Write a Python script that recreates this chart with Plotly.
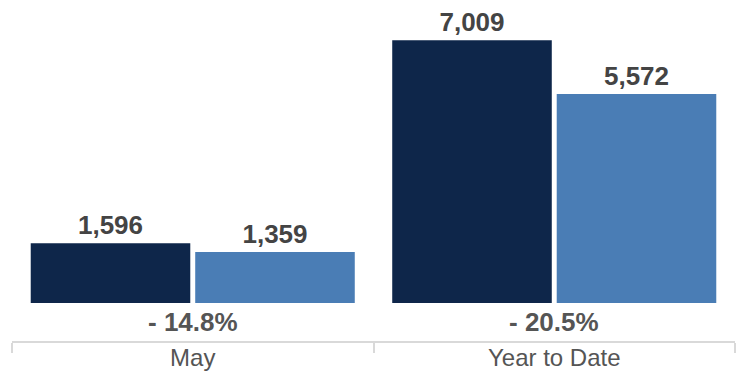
import plotly.graph_objects as go

categories = ["May", "Year to Date"]
prior_year = [1596, 7009]
current_year = [1359, 5572]
change_labels = ["- 14.8%", "- 20.5%"]

dark = "#0E264A"
blue = "#4A7DB5"
font_family = "Liberation Sans, Arial, sans-serif"

fig = go.Figure()
fig.add_trace(go.Bar(
    x=categories, y=prior_year, marker_color=dark, marker_line_width=0,
    texttemplate="%{y:,}", textposition="outside", cliponaxis=False,
    textfont=dict(family=font_family, size=26, color="#444444", weight="bold"),
    name="Prior"))
fig.add_trace(go.Bar(
    x=categories, y=current_year, marker_color=blue, marker_line_width=0,
    texttemplate="%{y:,}", textposition="outside", cliponaxis=False,
    textfont=dict(family=font_family, size=26, color="#444444", weight="bold"),
    name="Current"))

for cat, lab in zip(categories, change_labels):
    fig.add_annotation(x=cat, y=0, yref="y", text=lab, showarrow=False,
                       yanchor="top", yshift=-2,
                       font=dict(family=font_family, size=26, color="#555555", weight="bold"))

fig.update_layout(
    width=743, height=373,
    margin=dict(l=12, r=8, t=0, b=32, autoexpand=False),
    paper_bgcolor="white", plot_bgcolor="white",
    barmode="group", bargap=0.09, bargroupgap=0.03,
    showlegend=False,
    uniformtext=dict(mode=False),
    xaxis=dict(showline=True, linecolor="#D9D9D9", linewidth=2,
               ticks="outside", tickson="boundaries", ticklen=10, tickcolor="#D9D9D9", tickwidth=2,
               ticklabelstandoff=-6, automargin=False,
               tickfont=dict(family=font_family, size=24, color="#555555"),
               showgrid=False, zeroline=False),
    yaxis=dict(range=[-1013, 8080], visible=False, showgrid=False, zeroline=False),
)

fig.write_html("out.html", config={"displayModeBar": False},
               post_script="document.body.style.margin='0';")
